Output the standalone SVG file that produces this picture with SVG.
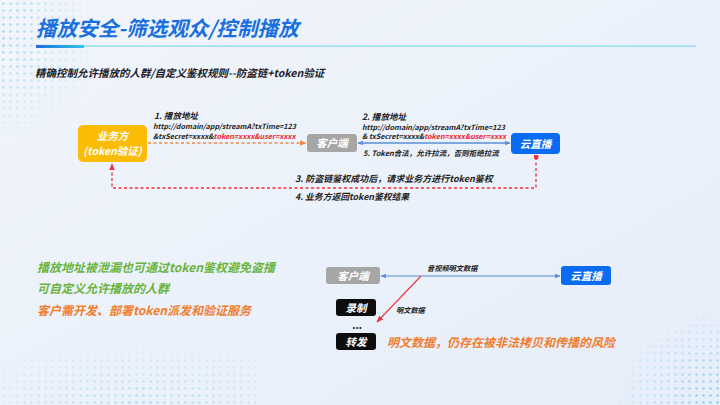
<svg xmlns="http://www.w3.org/2000/svg" width="720" height="405" viewBox="0 0 720 405">
<defs>
<linearGradient id="bg" x1="0" y1="0" x2="1" y2="1">
<stop offset="0" stop-color="#f1f5fb"/>
<stop offset="1" stop-color="#e6eefa"/>
</linearGradient>
<linearGradient id="ul" x1="0" y1="0" x2="1" y2="0">
<stop offset="0" stop-color="#1a6fe0"/>
<stop offset="1" stop-color="#35c6e8"/>
</linearGradient>
<pattern id="dots" width="7" height="7" patternUnits="userSpaceOnUse">
<circle cx="3.5" cy="3.5" r="1.2" fill="#7cc8f2"/>
</pattern>
<radialGradient id="fadeTL" cx="0" cy="0.25" r="0.9">
<stop offset="0" stop-color="#fff" stop-opacity="0.75"/>
<stop offset="1" stop-color="#fff" stop-opacity="0"/>
</radialGradient>
<radialGradient id="fadeBL" cx="0.55" cy="1" r="0.8">
<stop offset="0" stop-color="#fff" stop-opacity="0.6"/>
<stop offset="1" stop-color="#fff" stop-opacity="0"/>
</radialGradient>
<radialGradient id="fadeBR" cx="1" cy="1" r="0.95">
<stop offset="0" stop-color="#fff" stop-opacity="1"/>
<stop offset="1" stop-color="#fff" stop-opacity="0"/>
</radialGradient>
<mask id="mTL"><rect x="0" y="0" width="110" height="130" fill="url(#fadeTL)"/></mask>
<mask id="mBL"><rect x="0" y="320" width="260" height="85" fill="url(#fadeBL)"/></mask>
<mask id="mBR"><rect x="600" y="300" width="120" height="105" fill="url(#fadeBR)"/></mask>
<marker id="arrOrange" viewBox="0 0 10 10" refX="9" refY="5" markerWidth="7" markerHeight="7" orient="auto-start-reverse" markerUnits="userSpaceOnUse">
<path d="M0,1 L10,5 L0,9 z" fill="#f08a4b"/>
</marker>
<marker id="arrBlue" viewBox="0 0 10 10" refX="9" refY="5" markerWidth="6" markerHeight="6" orient="auto-start-reverse" markerUnits="userSpaceOnUse">
<path d="M0,1 L10,5 L0,9 z" fill="#5b8fd6"/>
</marker>
<marker id="arrRed" viewBox="0 0 10 10" refX="9" refY="5" markerWidth="7" markerHeight="7" orient="auto-start-reverse" markerUnits="userSpaceOnUse">
<path d="M0,1 L10,5 L0,9 z" fill="#f0313a"/>
</marker>
<marker id="dotRed" viewBox="0 0 10 10" refX="5" refY="5" markerWidth="5" markerHeight="5" markerUnits="userSpaceOnUse">
<circle cx="5" cy="5" r="5" fill="#f0313a"/>
</marker>
<style>
text{font-family:"Noto Sans CJK SC","Noto Sans",sans-serif;font-style:italic;font-weight:700}
.title{font-size:20.6px;fill:#1a6fe0}
.sub{font-size:10.5px;fill:#1c1c2a}
.lbl{font-size:8.6px;fill:#222}
.url{font-size:7.2px;fill:#222}
.red{fill:#f0222c}
.node{font-size:10.5px;fill:#fff}
.green{font-size:12px;fill:#6ab43e}
.orange{font-size:12px;fill:#f07d2d}
.small{font-size:7.2px;fill:#222}
</style>
</defs>

<rect width="720" height="405" fill="url(#bg)"/>
<rect x="0" y="0" width="110" height="130" fill="url(#dots)" mask="url(#mTL)"/>
<rect x="0" y="320" width="260" height="85" fill="url(#dots)" mask="url(#mBL)"/>
<rect x="600" y="300" width="120" height="105" fill="url(#dots)" mask="url(#mBR)"/>

<g id="header">
<text class="title" x="36" y="36">播放安全-筛选观众/控制播放</text>
<rect x="36" y="45.5" width="660" height="1.2" fill="#7fd6ee"/>
<rect x="36" y="45" width="48" height="3" fill="url(#ul)"/>
<text class="sub" x="35" y="77">精确控制允许播放的人群/自定义鉴权规则--防盗链+token验证</text>
</g>

<g id="connectors">
<line x1="148" y1="143" x2="306" y2="143" stroke="#f08a4b" stroke-width="1.3" stroke-dasharray="3,2.5" marker-end="url(#arrOrange)"/>
<line x1="358" y1="143" x2="510" y2="143" stroke="#5b8fd6" stroke-width="1.3" marker-start="url(#arrBlue)" marker-end="url(#arrBlue)"/>
<polyline points="536,157 536,188 112,188 112,164" fill="none" stroke="#f0313a" stroke-width="1.3" stroke-dasharray="3,2.5" marker-start="url(#dotRed)" marker-end="url(#arrRed)"/>
<line x1="381" y1="276" x2="560" y2="276" stroke="#5b8fd6" stroke-width="1" marker-start="url(#arrBlue)" marker-end="url(#arrBlue)"/>
<line x1="421" y1="276" x2="377" y2="322" stroke="#f0313a" stroke-width="1.1" marker-end="url(#arrRed)"/>
</g>

<g id="labels">
<text class="lbl" x="154" y="119">1. 播放地址</text>
<text class="url" x="153" y="129">http://domain/app/streamA?txTime=123</text>
<text class="url" x="153" y="138.5">&amp;txSecret=xxxx&amp;<tspan class="red">token=xxxx&amp;user=xxxx</tspan></text>
<text class="lbl" x="362" y="120">2. 播放地址</text>
<text class="url" x="362" y="129.5">http://domain/app/streamA?txTime=123</text>
<text class="url" x="362" y="139">&amp; txSecret=xxxx&amp;<tspan class="red">token=xxxx&amp;user=xxxx</tspan></text>
<text class="lbl" x="363" y="156" style="font-size:7.5px">5. Token合法，允许拉流，否则拒绝拉流</text>
<text class="lbl" x="295" y="182" style="font-size:9px">3. 防盗链鉴权成功后，请求业务方进行token鉴权</text>
<text class="lbl" x="295" y="200" style="font-size:8.8px">4. 业务方返回token鉴权结果</text>
<text class="small" x="427" y="271">音视频明文数据</text>
<text class="small" x="396" y="313">明文数据</text>
</g>

<g id="biz">
<rect x="78" y="125" width="69" height="37" rx="5" fill="#fbbc05"/>
<text class="node" x="112.5" y="140" text-anchor="middle">业务方</text>
<text class="node" x="112.5" y="155" text-anchor="middle">(token验证)</text>
</g>
<g id="client1">
<rect x="307" y="134" width="50" height="18" rx="3" fill="#a6a6a6"/>
<text class="node" x="332" y="147" text-anchor="middle">客户端</text>
</g>
<g id="cloud1">
<rect x="511" y="133" width="49" height="21" rx="4" fill="#0a6cf2"/>
<text class="node" x="535.5" y="147.5" text-anchor="middle">云直播</text>
</g>

<g id="notes">
<text class="green" x="37" y="272">播放地址被泄漏也可通过token鉴权避免盗播</text>
<text class="green" x="37" y="293">可自定义允许播放的人群</text>
<text class="orange" x="37" y="315">客户需开发、部署token派发和验证服务</text>
</g>

<g id="client2">
<rect x="326" y="267" width="54" height="17" rx="3" fill="#a6a6a6"/>
<text class="node" x="353" y="279.5" text-anchor="middle">客户端</text>
</g>
<g id="cloud2">
<rect x="561" y="266" width="50" height="19" rx="3" fill="#0a6cf2"/>
<text class="node" x="586" y="279.5" text-anchor="middle">云直播</text>
</g>
<g id="record">
<rect x="336" y="299" width="40" height="17" rx="3" fill="#0d0d0d"/>
<text class="node" x="356" y="311.5" text-anchor="middle">录制</text>
</g>
<text x="357" y="329" text-anchor="middle" style="font-size:10px;fill:#222;font-style:normal">...</text>
<g id="forward">
<rect x="336" y="333" width="40" height="17" rx="3" fill="#0d0d0d"/>
<text class="node" x="356" y="345.5" text-anchor="middle">转发</text>
</g>
<text class="orange" x="387" y="347">明文数据，仍存在被非法拷贝和传播的风险</text>
</svg>
